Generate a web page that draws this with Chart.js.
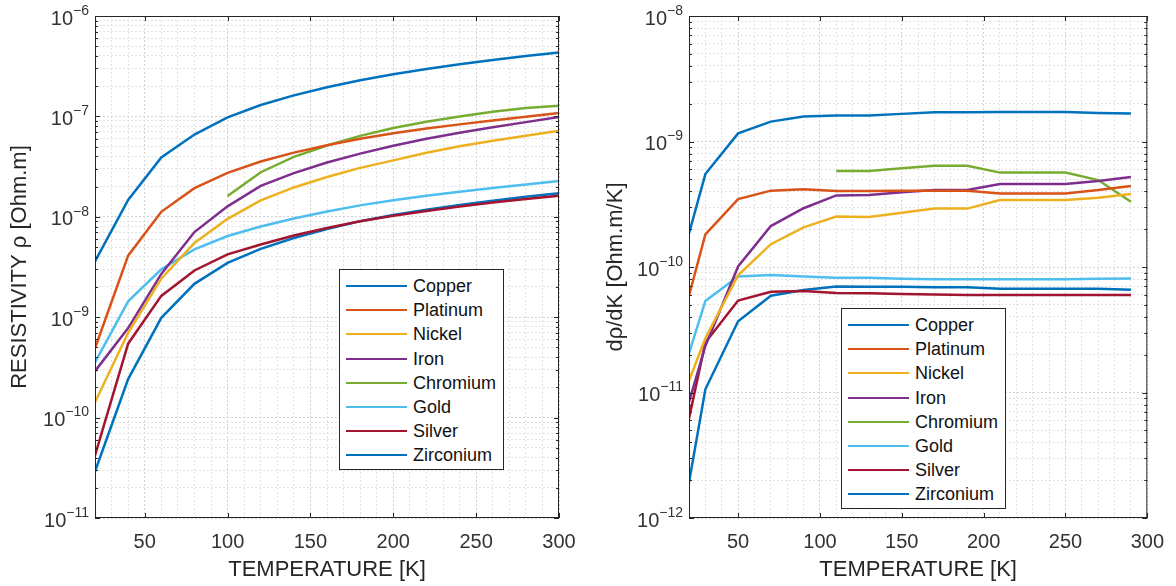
<!DOCTYPE html>
<html>
<head>
<meta charset="utf-8">
<script src="https://cdn.jsdelivr.net/npm/chart.js@4.4.1/dist/chart.umd.min.js"></script>
<style>
  body { margin: 0; background: #fff; }
  #wrap { position: relative; width: 1176px; height: 586px; overflow: hidden; }
  canvas { position: absolute; top: 0; }
  .legend {
    position: absolute; width: 165px; height: 201px; box-sizing: border-box;
    background: #fff; border: 1px solid #262626;
    font: 18px "Liberation Sans", Arial, Helvetica, sans-serif; color: #111;
  }
  .legend .row { position: absolute; left: 6px; height: 24px; display: flex; align-items: center; white-space: nowrap; }
  .legend .swatch { display: inline-block; width: 61px; height: 0; border-top: 2px solid; margin-right: 6px; }
</style>
</head>
<body>
<div id="wrap">
  <canvas id="rhoChart" width="588" height="586" style="left:0"></canvas>
  <canvas id="dRhoChart" width="588" height="586" style="left:588px"></canvas>
</div>
<script>
const FONT = '"Liberation Sans", Arial, Helvetica, sans-serif';

const metals = ['Copper', 'Platinum', 'Nickel', 'Iron', 'Chromium', 'Gold', 'Silver', 'Zirconium'];
const colors = ['#0072BD', '#D95319', '#EDB120', '#7E2F8E', '#77AC30', '#4DBEEE', '#A2142F', '#0072BD'];

// resistivity, left panel
const tempsRho = [20, 40, 60, 80, 100, 120, 140, 160, 180, 200, 220, 240, 260, 280, 300];
const rhoCopper    = [3.6e-9, 1.47e-8, 3.9e-8, 6.6e-8, 9.8e-8, 1.3e-7, 1.62e-7, 1.95e-7, 2.29e-7, 2.63e-7, 2.97e-7, 3.31e-7, 3.65e-7, 3.99e-7, 4.32e-7];
const rhoPlatinum  = [4.9e-10, 4.1e-9, 1.12e-8, 1.93e-8, 2.74e-8, 3.55e-8, 4.36e-8, 5.17e-8, 5.98e-8, 6.79e-8, 7.56e-8, 8.33e-8, 9.1e-8, 9.92e-8, 1.08e-7];
const rhoNickel    = [1.42e-10, 7.0e-10, 2.42e-9, 5.5e-9, 9.55e-9, 1.46e-8, 1.96e-8, 2.49e-8, 3.07e-8, 3.65e-8, 4.35e-8, 5.04e-8, 5.72e-8, 6.43e-8, 7.2e-8];
const rhoIron      = [2.9e-10, 7.8e-10, 2.7e-9, 7.05e-9, 1.27e-8, 2.03e-8, 2.72e-8, 3.47e-8, 4.26e-8, 5.1e-8, 6.0e-8, 6.88e-8, 7.8e-8, 8.77e-8, 9.85e-8];
const rhoChromium  = [null, null, null, null, 1.61e-8, 2.78e-8, 3.95e-8, 5.13e-8, 6.4e-8, 7.66e-8, 8.84e-8, 9.97e-8, 1.11e-7, 1.21e-7, 1.275e-7];
const rhoGold      = [3.55e-10, 1.44e-9, 3.0e-9, 4.73e-9, 6.43e-9, 8.0e-9, 9.6e-9, 1.13e-8, 1.3e-8, 1.46e-8, 1.62e-8, 1.78e-8, 1.94e-8, 2.1e-8, 2.27e-8];
const rhoSilver    = [4.2e-11, 5.45e-10, 1.63e-9, 2.92e-9, 4.22e-9, 5.3e-9, 6.5e-9, 7.75e-9, 9.05e-9, 1.025e-8, 1.145e-8, 1.265e-8, 1.385e-8, 1.505e-8, 1.62e-8];
const rhoZirconium = [2.9e-11, 2.42e-10, 9.85e-10, 2.15e-9, 3.48e-9, 4.8e-9, 6.15e-9, 7.55e-9, 9.05e-9, 1.044e-8, 1.178e-8, 1.312e-8, 1.446e-8, 1.58e-8, 1.712e-8];

// d(rho)/dK, right panel
const tempsDRho = [20, 30, 50, 70, 90, 110, 130, 150, 170, 190, 210, 230, 250, 270, 290];
const dCopper    = [1.85e-10, 5.5e-10, 1.16e-9, 1.44e-9, 1.58e-9, 1.61e-9, 1.61e-9, 1.66e-9, 1.71e-9, 1.71e-9, 1.72e-9, 1.72e-9, 1.72e-9, 1.69e-9, 1.67e-9];
const dPlatinum  = [5.9e-11, 1.82e-10, 3.48e-10, 4.06e-10, 4.16e-10, 4.04e-10, 4.04e-10, 4.05e-10, 4.06e-10, 4.06e-10, 3.86e-10, 3.86e-10, 3.86e-10, 4.1e-10, 4.42e-10];
const dNickel    = [1.24e-11, 2.7e-11, 8.6e-11, 1.52e-10, 2.07e-10, 2.52e-10, 2.5e-10, 2.71e-10, 2.92e-10, 2.92e-10, 3.42e-10, 3.42e-10, 3.42e-10, 3.56e-10, 3.82e-10];
const dIron      = [8.4e-12, 2.35e-11, 1.01e-10, 2.12e-10, 2.94e-10, 3.72e-10, 3.75e-10, 3.94e-10, 4.11e-10, 4.11e-10, 4.58e-10, 4.58e-10, 4.58e-10, 4.84e-10, 5.21e-10];
const dChromium  = [null, null, null, null, null, 5.82e-10, 5.82e-10, 6.11e-10, 6.41e-10, 6.41e-10, 5.65e-10, 5.65e-10, 5.65e-10, 4.93e-10, 3.31e-10];
const dGold      = [2.05e-11, 5.36e-11, 8.4e-11, 8.63e-11, 8.4e-11, 8.2e-11, 8.2e-11, 8.05e-11, 8.0e-11, 8.0e-11, 8.0e-11, 8.0e-11, 8.0e-11, 8.05e-11, 8.1e-11];
const dSilver    = [6.2e-12, 2.5e-11, 5.4e-11, 6.35e-11, 6.44e-11, 6.2e-11, 6.17e-11, 6.1e-11, 6.05e-11, 5.98e-11, 5.98e-11, 5.98e-11, 5.98e-11, 5.98e-11, 5.98e-11];
const dZirconium = [1.92e-12, 1.06e-11, 3.7e-11, 5.9e-11, 6.56e-11, 7.0e-11, 6.97e-11, 6.95e-11, 6.9e-11, 6.9e-11, 6.72e-11, 6.72e-11, 6.72e-11, 6.72e-11, 6.6e-11];

const xGridValues = [];
for (let v = 20; v <= 300; v += 10) xGridValues.push(v);

function isDecade(v) {
    const l = Math.log10(v);
    return Math.abs(l - Math.round(l)) < 1e-6;
}

function logGrid(minExp, maxExp) {
    const vals = [];
    for (let e = minExp; e < maxExp; e++) {
        for (let k = 1; k < 10; k++) vals.push(k * Math.pow(10, e));
    }
    vals.push(Math.pow(10, maxExp));
    return vals.map(v => ({ value: v }));
}

// box, inward ticks and 10^n labels, MATLAB style
const axesFrame = {
    id: 'axesFrame',
    afterDraw(chart) {
        const { ctx, chartArea: a, scales: { x, y } } = chart;
        ctx.save();
        ctx.strokeStyle = '#262626';
        ctx.lineWidth = 1;
        ctx.beginPath();
        x.ticks.forEach(t => {
            if (t.value % 50 !== 0) return;
            const px = Math.round(x.getPixelForValue(t.value)) + 0.5;
            ctx.moveTo(px, a.bottom); ctx.lineTo(px, a.bottom - 5);
            ctx.moveTo(px, a.top); ctx.lineTo(px, a.top + 5);
        });
        y.ticks.forEach(t => {
            const len = isDecade(t.value) ? 5 : 3;
            const py = Math.round(y.getPixelForValue(t.value)) + 0.5;
            ctx.moveTo(a.left, py); ctx.lineTo(a.left + len, py);
            ctx.moveTo(a.right, py); ctx.lineTo(a.right - len, py);
        });
        ctx.stroke();
        ctx.strokeRect(a.left + 0.5, a.top + 0.5, a.right - a.left - 1, a.bottom - a.top - 1);

        ctx.fillStyle = '#333';
        ctx.textBaseline = 'middle';
        ctx.textAlign = 'right';
        y.ticks.forEach(t => {
            if (!isDecade(t.value)) return;
            const e = Math.round(Math.log10(t.value));
            const expText = (e < 0 ? '\u2212' : '') + Math.abs(e);
            const py = y.getPixelForValue(t.value);
            ctx.font = '14px ' + FONT;
            const w = ctx.measureText(expText).width;
            ctx.fillText(expText, a.left - 6, py - 5);
            ctx.font = '20px ' + FONT;
            ctx.fillText('10', a.left - 6 - w, py + 3);
        });
        ctx.restore();
    }
};

function makeChart(id, temps, series, minExp, maxExp, yTitle, yWidth, yTitlePad, padRight) {
    const datasets = metals.map((m, i) => ({
        label: m,
        data: temps.map((t, j) => ({ x: t, y: series[i][j] })),
        borderColor: colors[i],
        borderWidth: 2.5,
        pointRadius: 0,
        tension: 0,
        fill: false
    }));

    return new Chart(document.getElementById(id), {
        type: 'line',
        data: { datasets },
        options: {
            responsive: false,
            animation: false,
            devicePixelRatio: 1,
            layout: { padding: { top: 16, right: padRight, left: 0, bottom: 0 } },
            plugins: { legend: { display: false }, tooltip: { enabled: false } },
            scales: {
                x: {
                    type: 'linear',
                    min: 20,
                    max: 300,
                    afterBuildTicks: s => { s.ticks = xGridValues.map(v => ({ value: v })); },
                    afterFit: s => { s.height = 68; },
                    ticks: {
                        autoSkip: false,
                        maxRotation: 0,
                        padding: 12,
                        color: '#333',
                        font: { size: 20, family: FONT },
                        callback: v => (v % 50 === 0 ? v : '')
                    },
                    grid: { drawTicks: false, color: c => (c.tick && c.tick.value % 50 === 0 ? '#d2d2d2' : '#e2e2e2') },
                    border: { display: false, dash: [2, 2] },
                    title: {
                        display: true,
                        text: 'TEMPERATURE [K]',
                        color: '#262626',
                        font: { size: 22, family: FONT },
                        padding: { top: 0, bottom: 3 }
                    }
                },
                y: {
                    type: 'logarithmic',
                    min: Math.pow(10, minExp),
                    max: Math.pow(10, maxExp),
                    afterBuildTicks: s => { s.ticks = logGrid(minExp, maxExp); },
                    afterFit: s => { s.width = yWidth; },
                    ticks: { display: false },
                    grid: { drawTicks: false, color: c => (c.tick && isDecade(c.tick.value) ? '#d2d2d2' : '#e2e2e2') },
                    border: { display: false, dash: [2, 2] },
                    title: {
                        display: true,
                        text: yTitle,
                        color: '#262626',
                        font: { size: 22, family: FONT },
                        padding: { top: yTitlePad, bottom: 0 }
                    }
                }
            }
        },
        plugins: [axesFrame]
    });
}

function buildLegend(left, top) {
    const box = document.createElement('div');
    box.className = 'legend';
    box.style.left = left + 'px';
    box.style.top = top + 'px';
    metals.forEach((m, i) => {
        const row = document.createElement('div');
        row.className = 'row';
        row.style.top = Math.round(4 + i * 24.2) + 'px';
        row.innerHTML = `<span class="swatch" style="border-color:${colors[i]}"></span><span>${m}</span>`;
        box.appendChild(row);
    });
    document.getElementById('wrap').appendChild(box);
}

makeChart('rhoChart', tempsRho,
    [rhoCopper, rhoPlatinum, rhoNickel, rhoIron, rhoChromium, rhoGold, rhoSilver, rhoZirconium],
    -11, -6, 'RESISTIVITY \u03C1 [Ohm.m]', 95, 7, 29);

makeChart('dRhoChart', tempsDRho,
    [dCopper, dPlatinum, dNickel, dIron, dChromium, dGold, dSilver, dZirconium],
    -12, -8, 'd\u03C1/dK [Ohm.m/K]', 101, 15, 20);

buildLegend(339, 269);
buildLegend(841, 308);
</script>
</body>
</html>
